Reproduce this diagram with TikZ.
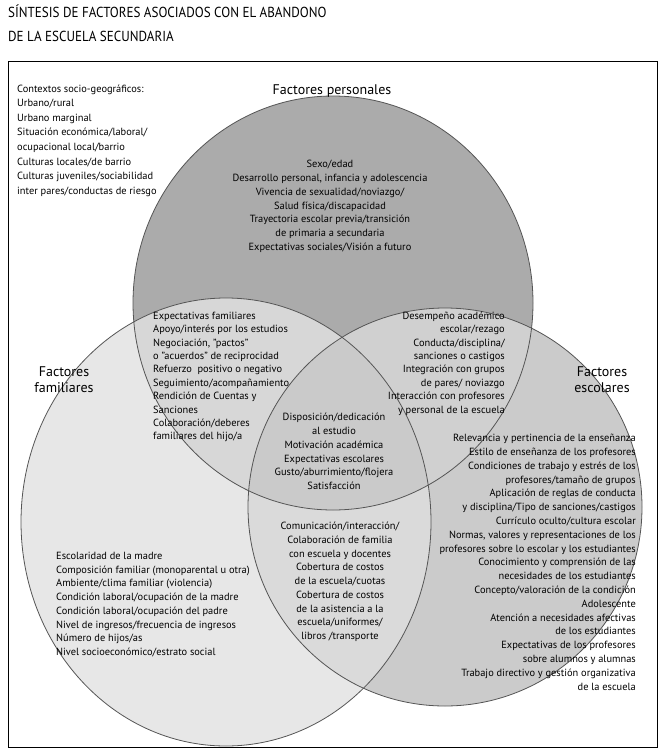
\documentclass[tikz,border=0pt]{standalone}
\usepackage{fontspec}
\setmainfont{PT Sans}
\newfontfamily\titlefont[FakeStretch=0.9]{PT Sans}
\definecolor{cT}{HTML}{ABABAB}
\definecolor{cL}{HTML}{E7E7E7}
\definecolor{cR}{HTML}{CBCBCB}
\definecolor{cTL}{HTML}{D7D7D7}
\definecolor{cTR}{HTML}{D0D0D0}
\definecolor{cLR}{HTML}{DADADA}
\definecolor{cC}{HTML}{CACACA}
\definecolor{ringgray}{HTML}{555555}
\tikzset{
  topE/.style={insert path={(333,303) ellipse [x radius=200, y radius=207]}},
  leftE/.style={insert path={(226,522) ellipse [x radius=205, y radius=224]}},
  rightE/.style={insert path={(445,507) ellipse [x radius=197, y radius=199]}},
  ring/.style={draw=ringgray, line width=0.8pt},
  txt/.style={inner sep=0pt, font=\fontsize{10.4}{#1}\selectfont},
  txt/.default=13.8,
  lbl/.style={inner sep=0pt, font=\fontsize{14}{16}\selectfont, align=center},
  ttl/.style={inner sep=0pt, font=\titlefont\fontsize{14.5}{16}\selectfont}
}
\begin{document}
\begin{tikzpicture}[x=1pt,y=-1pt]
\useasboundingbox (0,0) rectangle (665,755);
\fill[white] (0,0) rectangle (665,755);
% fills
\fill[cL, leftE];
\fill[cR, rightE];
\fill[cT, topE];
\begin{scope}
  \clip[topE];
  \fill[cTL, leftE];
  \fill[cTR, rightE];
\end{scope}
\begin{scope}
  \clip[leftE];
  \fill[cLR, rightE];
\end{scope}
\begin{scope}
  \clip[topE];
  \clip[leftE];
  \fill[cC, rightE];
\end{scope}
\draw[ring, topE];
\draw[ring, leftE];
\draw[ring, rightE];
% frame
\draw[black, line width=1pt] (8,61) rectangle (657,747);
% title
\node[ttl, anchor=base west] (t1) at (8,17.5) {SÍNTESIS DE FACTORES ASOCIADOS CON EL ABANDONO};
\node[ttl, anchor=base west] (t2) at (8,41.5) {DE LA ESCUELA SECUNDARIA};
% labels
\node[lbl, anchor=base] (lp) at (332,94) {Factores personales};
\node[lbl, anchor=north] (lf) at (64,365.3) {\strut Factores\\familiares};
\node[lbl, anchor=north] (le) at (602,365.3) {\strut Factores\\escolares};
% blocks
\node[txt=14.57, anchor=north west, align=left] (ctx) at (17,81.8) {\strut Contextos socio-geográficos:\\Urbano/rural\\Urbano marginal\\Situación económica/laboral/\\ocupacional local/barrio\\Culturas locales/de barrio\\Culturas juveniles/sociabilidad\\inter pares/conductas de riesgo};
\node[txt, anchor=north, align=center] (per) at (330,157.8) {\strut Sexo/edad\\Desarrollo personal, infancia y adolescencia\\Vivencia de sexualidad/noviazgo/\\Salud física/discapacidad\\Trayectoria escolar previa/transición\\de primaria a secundaria\\Expectativas sociales/Visión a futuro};
\node[txt=13.4, anchor=north west, align=left] (pf) at (153,309.8) {\strut Expectativas familiares\\Apoyo/interés por los estudios\\Negociación, "pactos"\\o "acuerdos" de reciprocidad\\Refuerzo\ \ positivo o negativo\\Seguimiento/acompañamiento\\Rendición de Cuentas y\\Sanciones\\Colaboración/deberes\\familiares del hijo/a};
\node[txt=13.4, anchor=north east, align=right] (pe) at (505,309.8) {\strut Desempeño académico\\escolar/rezago\\Conducta/disciplina/\\sanciones o castigos\\Integración con grupos\\de pares/ noviazgo\\Interacción con profesores\\y personal de la escuela};
\node[txt, anchor=north, align=center] (cen) at (334,410.8) {\strut Disposición/dedicación\\al estudio\\Motivación académica\\Expectativas escolares\\Gusto/aburrimiento/flojera\\Satisfacción};
\node[txt, anchor=north east, align=right] (esc) at (636,431.8) {\strut Relevancia y pertinencia de la enseñanza\\Estilo de enseñanza de los profesores\\Condiciones de trabajo y estrés de los\\profesores/tamaño de grupos\\Aplicación de reglas de conducta\\y disciplina/Tipo de sanciones/castigos\\Currículo oculto/cultura escolar\\Normas, valores y representaciones de los\\profesores sobre lo escolar y los estudiantes\\Conocimiento y comprensión de las\\necesidades de los estudiantes\\Concepto/valoración de la condición\\Adolescente\\Atención a necesidades afectivas\\de los estudiantes\\Expectativas de los profesores\\sobre alumnos y alumnas\\Trabajo directivo y gestión organizativa\\de la escuela};
\node[txt=13.7, anchor=north west, align=left] (fam) at (56,549.8) {\strut Escolaridad de la madre\\Composición familiar (monoparental u otra)\\Ambiente/clima familiar (violencia)\\Condición laboral/ocupación de la madre\\Condición laboral/ocupación del padre\\Nivel de ingresos/frecuencia de ingresos\\Número de hijos/as\\Nivel socioeconómico/estrato social};
\node[txt=13.75, anchor=north, align=center] (fe) at (340,519.8) {\strut Comunicación/interacción/\\Colaboración de familia\\con escuela y docentes\\Cobertura de costos\\de la escuela/cuotas\\Cobertura de costos\\de la asistencia a la\\escuela/uniformes/\\libros /transporte};
\end{tikzpicture}
\end{document}
